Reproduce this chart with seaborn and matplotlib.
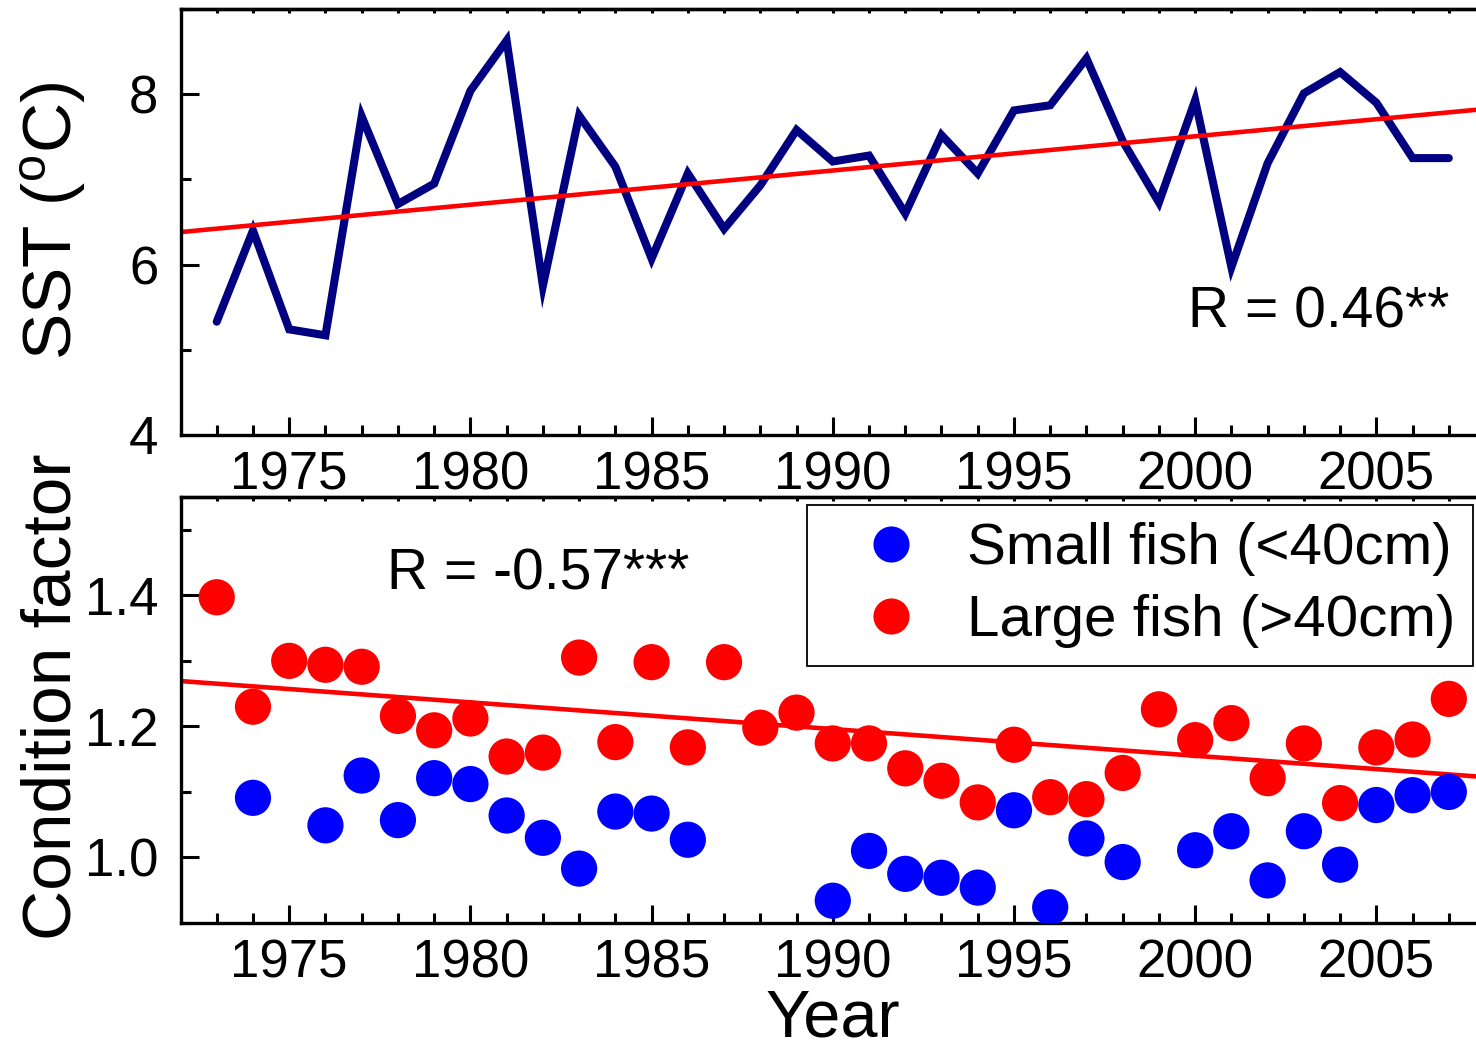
import matplotlib
matplotlib.use("Agg")
import matplotlib.pyplot as plt
from matplotlib.ticker import MultipleLocator
from matplotlib.lines import Line2D
import seaborn as sns

# ---------------- data ----------------
years = list(range(1973, 2008))
sst = [5.33, 6.40, 5.24, 5.17, 7.74, 6.71, 6.95, 8.04, 8.63, 5.75,
       7.75, 7.15, 6.07, 7.07, 6.42, 6.93, 7.58, 7.21, 7.28, 6.60,
       7.52, 7.07, 7.81, 7.87, 8.42, 7.45, 6.73, 7.93, 5.97, 7.19,
       8.01, 8.26, 7.90, 7.25, 7.25]
large_fish = [1.397, 1.230, 1.300, 1.294, 1.291, 1.216, 1.194, 1.212, 1.154, 1.160,
              1.305, 1.176, 1.298, 1.168, 1.298, 1.198, 1.221, 1.174, 1.174, 1.136,
              1.117, 1.084, 1.172, 1.092, 1.089, 1.129, 1.226, 1.179, 1.205, 1.121,
              1.174, 1.083, 1.168, 1.180, 1.242]
small_years = [1974, 1976, 1977, 1978, 1979, 1980, 1981, 1982, 1983, 1984, 1985, 1986,
               1990, 1991, 1992, 1993, 1994, 1995, 1996, 1997, 1998,
               2000, 2001, 2002, 2003, 2004, 2005, 2006, 2007]
small_fish = [1.091, 1.049, 1.125, 1.057, 1.121, 1.112, 1.064, 1.030, 0.983, 1.070, 1.067, 1.027,
              0.934, 1.010, 0.975, 0.969, 0.954, 1.072, 0.924, 1.029, 0.993,
              1.011, 1.040, 0.965, 1.040, 0.989, 1.080, 1.095, 1.100]
legend_labels = ["Small fish (<40cm)", "Large fish (>40cm)"]
r_top = "R = 0.46**"
r_bottom = "R = -0.57***"

# ---------------- style ----------------
sns.set_theme(style="ticks")
plt.rcParams['font.family'] = ['Liberation Sans', 'DejaVu Sans']
plt.rcParams['mathtext.fontset'] = 'custom'
plt.rcParams['mathtext.rm'] = 'Liberation Sans'
plt.rcParams['axes.linewidth'] = 2.4
for key in ('text.color', 'axes.labelcolor', 'xtick.color', 'ytick.color',
            'axes.edgecolor', 'xtick.labelcolor', 'ytick.labelcolor'):
    plt.rcParams[key] = 'black'

W, H = 1476, 1053
fig = plt.figure(figsize=(W / 100, H / 100), dpi=100)
fig.patch.set_facecolor('white')

left = 180.5 / W
width = 1 - left
ax1 = fig.add_axes([left, 1 - 435 / H, width, (435 - 9) / H])
ax2 = fig.add_axes([left, 1 - 923 / H, width, (923 - 497) / H])

XLIM = (1972, 2007.75)

# top panel
ax1.set_xlim(*XLIM)
sns.lineplot(x=years, y=sst, ax=ax1, color='#000080', linewidth=5.8,
             solid_joinstyle='miter')
sns.regplot(x=years, y=sst, ax=ax1, scatter=False, ci=None, truncate=False,
            color='#FF0000', line_kws={'linewidth': 3.3})
ax1.set_xlim(*XLIM)
ax1.set_ylim(4, 9)
ax1.yaxis.set_major_locator(MultipleLocator(2))
ax1.yaxis.set_minor_locator(MultipleLocator(1))

# bottom panel
ax2.set_xlim(*XLIM)
sns.regplot(x=years, y=large_fish, ax=ax2, scatter=False, ci=None, truncate=False,
            color='#FF0000', line_kws={'linewidth': 3.3})
sns.scatterplot(x=years, y=large_fish, ax=ax2, color='#FF0000', s=680,
                edgecolor='none', linewidth=0, zorder=3)
sns.scatterplot(x=small_years, y=small_fish, ax=ax2, color='#0000FF', s=680,
                edgecolor='none', linewidth=0, zorder=4)
ax2.set_xlim(*XLIM)
ax2.set_ylim(0.9, 1.55)
ax2.yaxis.set_major_locator(MultipleLocator(0.2))
ax2.yaxis.set_minor_locator(MultipleLocator(0.1))

for ax in (ax1, ax2):
    ax.set_xlabel('')
    ax.set_ylabel('')
    ax.grid(False)
    ax.spines['right'].set_visible(False)
    for s in ('left', 'top', 'bottom'):
        ax.spines[s].set_visible(True)
        ax.spines[s].set_color('black')
        ax.spines[s].set_linewidth(2.4)
    ax.xaxis.set_major_locator(MultipleLocator(5))
    ax.xaxis.set_minor_locator(MultipleLocator(1))
    ax.tick_params(axis='both', which='major', direction='in', length=13, width=2.2,
                   labelsize=38, color='black', labelcolor='black')
    ax.tick_params(axis='both', which='minor', direction='in', length=7, width=2.2,
                   color='black')
    ax.tick_params(axis='x', which='both', pad=11, top=False)
    ax.tick_params(axis='y', which='both', pad=16, right=False)
    sec = ax.secondary_xaxis('top')
    sec.xaxis.set_major_locator(MultipleLocator(1))
    sec.tick_params(direction='in', length=3, width=2.2, labeltop=False, color='black')
    sec.spines['top'].set_linewidth(2.4)
    sec.spines['top'].set_color('black')

handles = [Line2D([], [], marker='o', linestyle='none', color='#0000FF',
                  markersize=26, markeredgewidth=0),
           Line2D([], [], marker='o', linestyle='none', color='#FF0000',
                  markersize=26, markeredgewidth=0)]
leg = ax2.legend(handles, legend_labels, loc='upper right',
                 bbox_to_anchor=(1473 / W, 1 - 505 / H), bbox_transform=fig.transFigure,
                 borderaxespad=0, fontsize=42, frameon=True, fancybox=False,
                 edgecolor='black', framealpha=1, handlelength=2.3,
                 handletextpad=0.15, borderpad=0.3, labelspacing=0.3)
leg.get_frame().set_linewidth(1.3)
for t in leg.get_texts():
    t.set_color('black')

fig.text(1188 / W, 1 - 328 / H, r_top, fontsize=41, ha='left', va='baseline',
         color='black')
fig.text(387 / W, 1 - 590 / H, r_bottom, fontsize=41, ha='left', va='baseline',
         color='black')

fig.text(53 / W, 1 - 221 / H, r"SST ($\mathregular{^o}$C)", rotation=90,
         ha='center', va='center', fontsize=50, color='black')
fig.text(53 / W, 1 - 697 / H, "Condition factor", rotation=90,
         ha='center', va='center', fontsize=50, color='black')
fig.text(833 / W, 0.002, "Year", ha='center', va='bottom', fontsize=48,
         color='black')

fig.savefig("out.png", dpi=100)
